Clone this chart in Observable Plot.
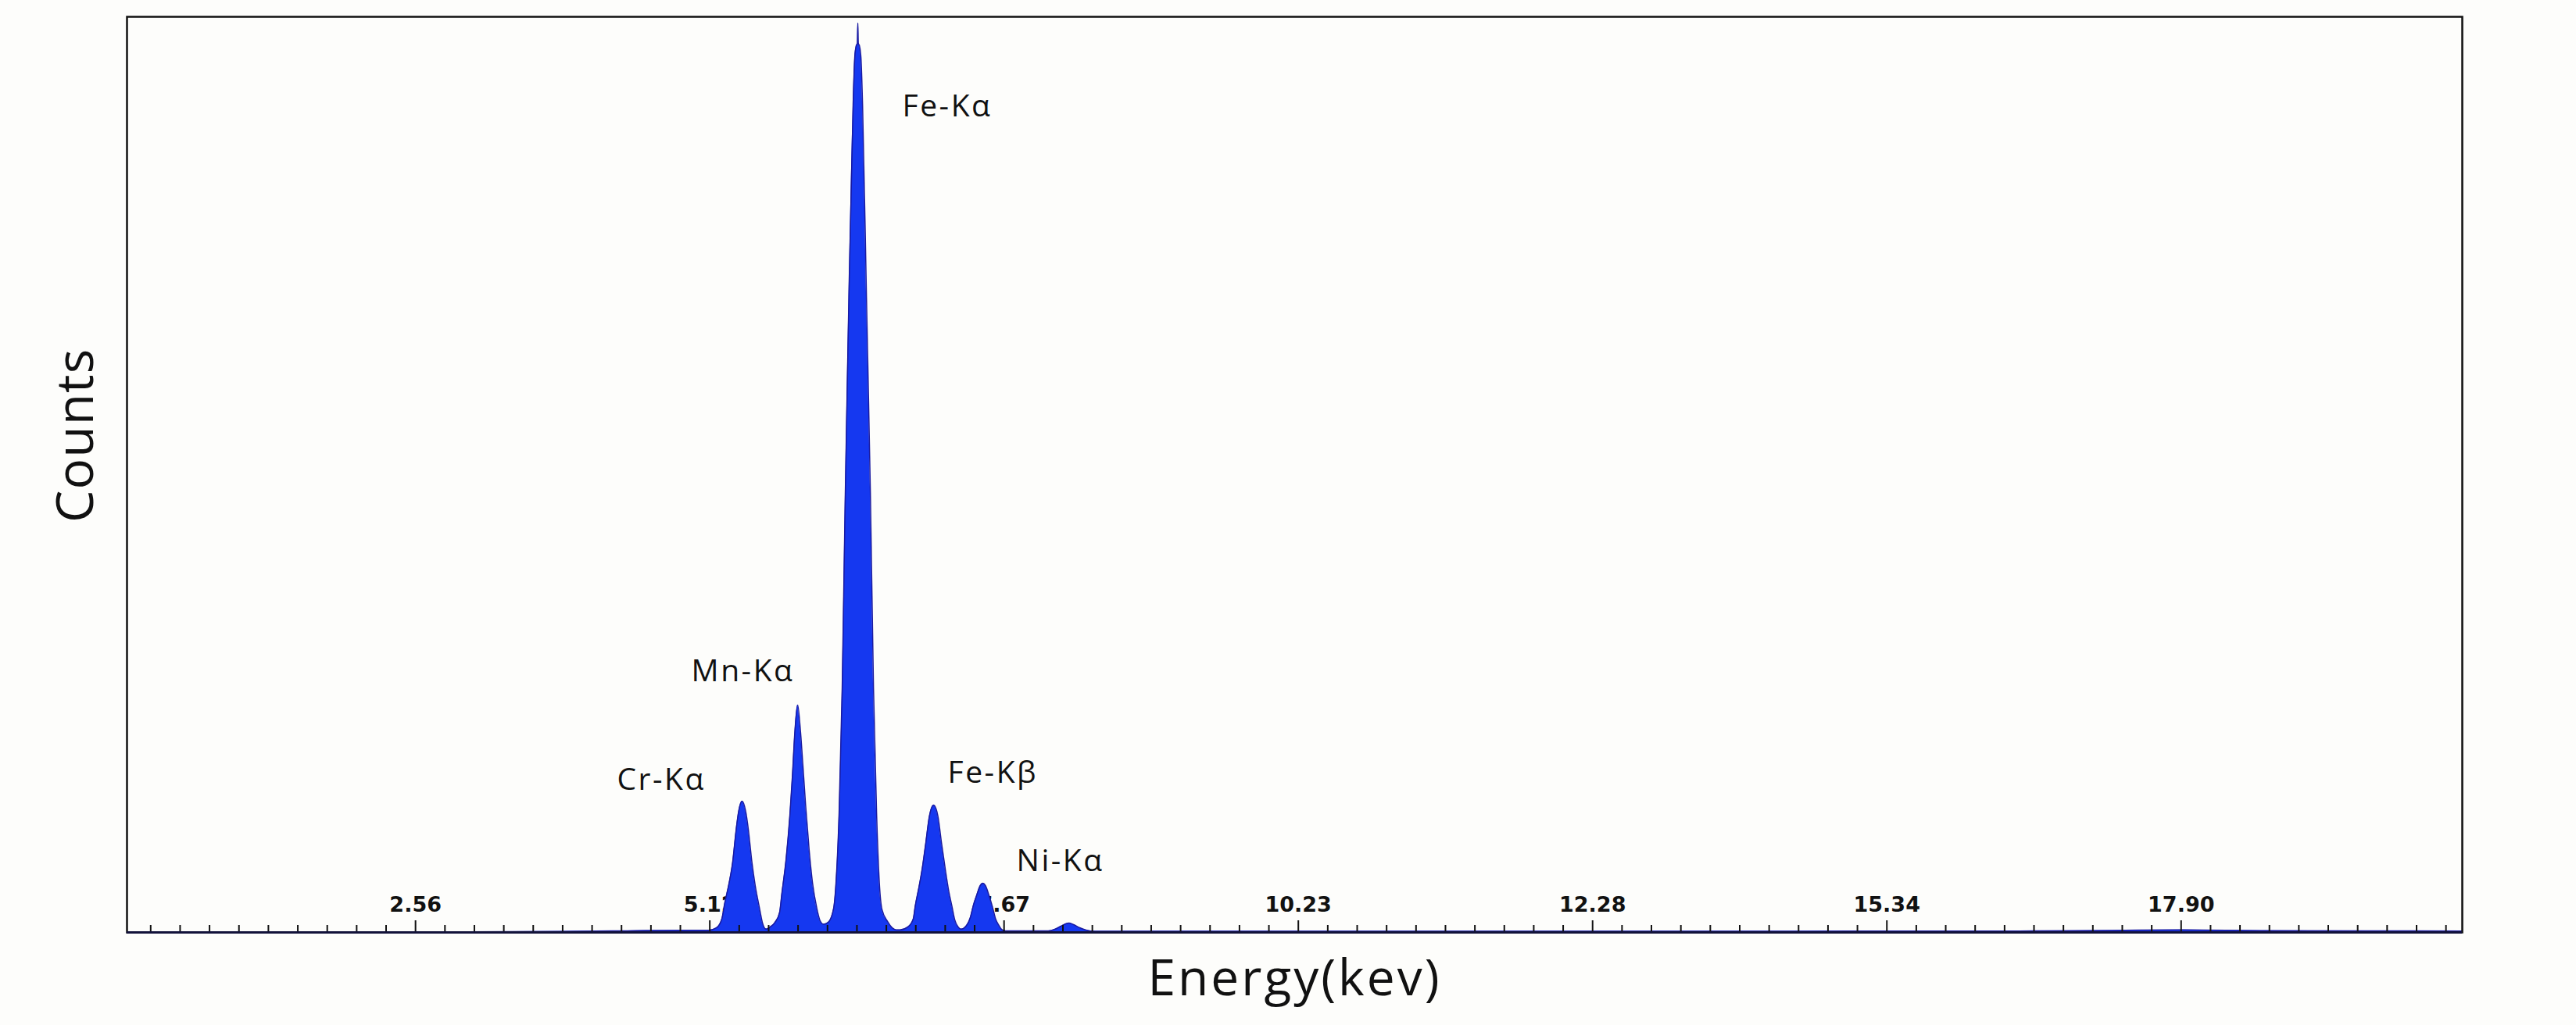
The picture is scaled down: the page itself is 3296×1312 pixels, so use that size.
<!DOCTYPE html>
<html><head><meta charset="utf-8">
<script src="https://cdn.jsdelivr.net/npm/d3@7"></script>
<script src="https://cdn.jsdelivr.net/npm/@observablehq/plot@0.6"></script>
<style>
html,body{margin:0;padding:0;background:#fdfdfb;}
</style></head><body><div id="chart"></div>
<script>
// Spectrum (energy in keV, counts in arbitrary units)
const energy = [
  0.05, 1.0, 2.0, 3.0, 3.8, 4.4, 4.9, 5.105,
  5.173, 5.221, 5.246, 5.284, 5.314, 5.344, 5.367, 5.397, 5.428, 5.451, 5.481, 5.511, 5.549, 5.575, 5.605,
  5.635, 5.683, 5.723, 5.742, 5.780, 5.812, 5.834, 5.856, 5.880, 5.902, 5.925, 5.948, 5.979, 6.009, 6.047, 6.074, 6.104,
  6.145, 6.192, 6.213, 6.240, 6.267, 6.294, 6.325, 6.362, 6.376, 6.389, 6.399, 6.403, 6.407, 6.417, 6.430, 6.444, 6.478, 6.512, 6.539, 6.566, 6.590, 6.613, 6.661, 6.702, 6.736,
  6.770, 6.838, 6.885, 6.902, 6.932, 6.963, 6.994, 7.024, 7.062, 7.100, 7.130, 7.162, 7.192, 7.222, 7.245, 7.275, 7.300,
  7.347, 7.381, 7.408, 7.437, 7.467, 7.490, 7.512, 7.542, 7.573, 7.600, 7.630, 7.655, 7.687,
  8.060, 8.115, 8.169, 8.210, 8.237, 8.278, 8.332, 8.387, 8.468,
  9.5, 11.0, 13.0, 15.0, 16.5, 17.3, 17.9, 18.6, 19.5, 20.35
];
const counts = [
  0.3, 0.4, 0.5, 0.6, 1.0, 1.8, 2.4, 2.4,
  5.0, 15.0, 32.0, 54.0, 76.0, 110.9, 132.3, 143.3, 132.3, 112.6, 78.0, 51.0, 26.0, 10.0, 3.6,
  5.5, 11.0, 22.0, 42.0, 81.0, 128.0, 170.6, 220.1, 248.3, 223.5, 183.4, 140.8, 91.0, 54.0, 26.0, 13.0, 9.0,
  11.0, 26.0, 54.0, 130.0, 267.1, 480.4, 693.7, 904.4, 955.6, 968.4, 971, 993.2, 971, 968.4, 955.6, 904.4, 693.7, 480.4, 267.1, 130.0, 54.0, 25.0, 12.0, 5.0, 2.8,
  2.8, 6.0, 15.0, 29.0, 48.0, 70.0, 98.1, 126.3, 139.1, 126.3, 98.1, 70.0, 46.0, 28.0, 14.0, 6.0, 3.6,
  7.5, 16.5, 30.0, 41.0, 51.2, 53.8, 51.2, 41.0, 28.0, 15.0, 7.5, 3.0, 1.8,
  1.7, 3.4, 6.8, 9.4, 10.2, 8.5, 5.1, 2.6, 1.3,
  1.3, 1.2, 1.3, 1.4, 1.6, 2.2, 2.8, 2.0, 1.7, 1.6
];

// Axis ticks and their (printed) labels
const majorTicks = [2.558, 5.116, 7.674, 10.232, 12.79, 15.348, 17.906];
const tickLabels = ["2.56", "5.12", "7.67", "10.23", "12.28", "15.34", "17.90"];
const minorStep = 0.2558;

// Peak annotations
const peakNames = ["Cr-Kα", "Mn-Kα", "Fe-Kα", "Fe-Kβ", "Ni-Kα"];
const peakLabelEnergy = [4.31, 4.956, 6.79, 7.184, 7.782];
const peakLabelCounts = [155.3, 273.9, 891.6, 163.0, 66.6];

const xTitle = "Energy(kev)";
const yTitle = "Counts";

const spectrum = energy.map((e, i) => ({energy: e, counts: counts[i]}));
const ticks = majorTicks.map((t, i) => ({t, label: tickLabels[i]}));
const peaks = peakNames.map((n, i) => ({name: n, e: peakLabelEnergy[i], c: peakLabelCounts[i]}));
const minorTicks = d3.range(1, 80).filter(i => i % 10 !== 0).map(i => i * minorStep).filter(v => v < 20.3);

const chart = Plot.plot({
  width: 3296,
  height: 1312,
  marginLeft: 162,
  marginRight: 146,
  marginTop: 21,
  marginBottom: 119,
  x: {domain: [0.05, 20.35], axis: null},
  y: {domain: [0, 1000], axis: null},
  style: {background: "#fdfdfb", overflow: "visible"},
  marks: [
    Plot.text(ticks, {x: "t", y: 0, text: "label", dy: -27, lineAnchor: "bottom", textAnchor: "middle",
      fontFamily: "DejaVu Sans", fontWeight: "bold", fontSize: 27, fill: "#111"}),
    Plot.areaY(spectrum, {x: "energy", y: "counts", fill: "#1538f0", curve: "monotone-x"}),
    Plot.lineY(spectrum, {x: "energy", y: "counts", stroke: "#1a1aa0", strokeWidth: 1.5, curve: "monotone-x"}),
    Plot.ruleX(minorTicks, {x: d => d, y1: 0, y2: 7.7, stroke: "#111", strokeWidth: 2}),
    Plot.ruleX(majorTicks, {x: d => d, y1: 0, y2: 12.8, stroke: "#111", strokeWidth: 2}),
    Plot.frame({stroke: "#111", strokeWidth: 2.5}),
    Plot.ruleY([0], {stroke: "#12123a", strokeWidth: 3}),
    Plot.text(peaks, {x: "e", y: "c", text: "name", textAnchor: "start", lineAnchor: "bottom",
      fontFamily: "Open Sans", fontSize: 39, fill: "#111"}),
    Plot.text([xTitle], {text: d => d, frameAnchor: "bottom", dy: 80, lineAnchor: "bottom", textAnchor: "middle",
      fontFamily: "Open Sans", fontSize: 64, fill: "#111"}),
    Plot.text([yTitle], {text: d => d, frameAnchor: "left", dx: -65, dy: -50, rotate: -90, lineAnchor: "middle", textAnchor: "middle",
      fontFamily: "Open Sans", fontSize: 66, fill: "#111"})
  ]
});
// widen the letter spacing of the annotation texts (the reference glyphs are slightly stretched)
d3.select(chart).selectAll("text").each(function() {
  const t = this.textContent;
  if (peakNames.includes(t)) this.style.letterSpacing = "2.5px";
  else if (t === xTitle) this.style.letterSpacing = "3px";
  else if (t === yTitle) this.style.letterSpacing = "1px";
});
document.getElementById("chart").appendChild(chart);
</script>
</body></html>
